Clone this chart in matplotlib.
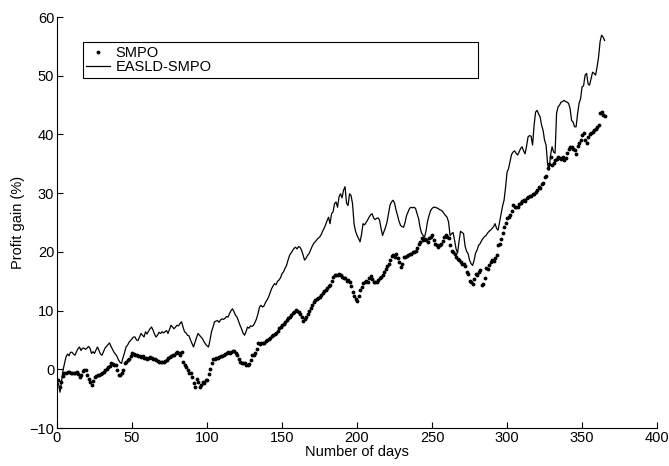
import numpy as np
import matplotlib
matplotlib.use("Agg")
from matplotlib import pyplot as plt

plt.rcParams['font.family'] = ['Liberation Sans', 'DejaVu Sans']

# daily profit gain (%) over one year of trading
smpo = [
    -1.9, -3.0, -2.2, -1.2, -0.7, -0.6, -0.5, -0.4, -0.6, -0.7,
    -0.7, -0.6, -0.5, -0.8, -1.3, -0.9, -0.3, -0.2, -0.2, -1.0,
    -1.6, -2.2, -2.7, -2.0, -1.3, -1.2, -1.0, -1.0, -0.8, -0.7,
    -0.4, -0.2, 0.1, 0.4, 0.6, 1.0, 0.9, 0.8, 0.7, -0.2,
    -1.0, -0.9, -0.7, -0.2, 1.0, 1.2, 1.6, 1.8, 2.3, 2.7,
    2.6, 2.5, 2.4, 2.3, 2.2, 2.1, 2.2, 2.0, 1.9, 1.8,
    2.0, 2.1, 1.9, 1.8, 1.7, 1.5, 1.4, 1.2, 1.3, 1.2,
    1.2, 1.4, 1.6, 1.9, 2.1, 2.2, 2.4, 2.5, 2.7, 2.9,
    2.7, 2.4, 2.9, 1.2, 0.8, 0.4, -0.2, -0.6, -0.7, -1.3,
    -2.4, -3.0, -1.6, -2.2, -3.0, -2.7, -2.2, -2.4, -1.9, -1.9,
    -0.8, 0.1, 1.0, 1.8, 1.7, 1.9, 2.0, 2.1, 2.2, 2.3,
    2.4, 2.6, 2.7, 2.9, 2.8, 3.0, 3.2, 3.1, 2.8, 2.4,
    1.8, 1.2, 1.1, 1.0, 1.0, 0.8, 0.7, 0.9, 1.6, 2.4,
    2.5, 2.7, 3.5, 4.4, 4.3, 4.4, 4.5, 4.4, 4.8, 5.0,
    5.2, 5.4, 5.6, 5.8, 6.0, 6.1, 6.5, 7.0, 7.2, 7.5,
    7.8, 8.1, 8.4, 8.7, 8.9, 9.3, 9.6, 9.8, 10.1, 9.9,
    9.7, 9.5, 8.9, 8.3, 8.5, 8.9, 9.4, 10.0, 10.5, 11.0,
    11.4, 11.8, 11.9, 12.1, 12.3, 12.6, 13.0, 13.3, 13.5, 13.9,
    14.2, 14.4, 15.0, 15.8, 16.0, 16.1, 16.0, 16.2, 16.0, 15.7,
    15.5, 15.5, 15.0, 15.2, 14.8, 14.2, 13.2, 12.4, 12.0, 11.6,
    12.5, 13.5, 14.1, 14.7, 14.9, 15.1, 14.9, 15.5, 15.9, 15.4,
    14.9, 14.8, 14.9, 15.2, 15.5, 15.7, 16.0, 16.5, 17.0, 17.6,
    18.0, 18.6, 19.3, 19.4, 19.2, 19.6, 19.0, 18.2, 17.5, 18.0,
    19.1, 19.1, 19.3, 19.4, 19.6, 19.7, 19.9, 20.0, 20.1, 20.6,
    21.4, 21.7, 22.3, 22.0, 22.2, 22.0, 21.7, 22.3, 22.6, 22.8,
    22.0, 21.4, 21.2, 20.8, 21.1, 21.4, 21.8, 22.5, 22.8, 22.6,
    22.4, 21.2, 20.2, 20.0, 19.7, 19.1, 18.8, 18.6, 18.2, 18.0,
    18.0, 17.6, 16.6, 16.2, 15.0, 14.9, 14.6, 15.3, 16.3, 16.0,
    16.5, 16.9, 14.3, 14.6, 15.5, 17.2, 17.0, 17.7, 18.2, 18.6,
    18.4, 18.9, 19.5, 21.1, 21.3, 22.2, 23.2, 24.2, 25.0, 25.7,
    26.0, 26.2, 27.0, 27.9, 27.6, 27.7, 27.6, 28.1, 28.3, 28.6,
    28.8, 28.6, 29.1, 29.4, 29.6, 29.5, 29.9, 29.8, 30.2, 30.5,
    31.1, 30.9, 31.6, 31.7, 32.8, 33.0, 34.2, 35.0, 36.2, 34.8,
    35.2, 35.6, 35.9, 36.2, 36.0, 35.9, 36.1, 35.6, 36.0, 36.8,
    37.6, 37.8, 37.9, 37.6, 37.3, 36.7, 38.0, 38.6, 39.0, 39.9,
    40.2, 39.0, 38.5, 39.6, 40.0, 40.2, 40.5, 40.7, 41.0, 41.3,
    41.6, 43.6, 43.8, 43.3, 43.2,
]

easld_smpo = [
    -2.4, -3.9, -2.0, -0.2, 1.0, 2.1, 2.6, 2.3, 2.9, 2.9,
    2.6, 2.4, 3.0, 3.5, 3.8, 3.2, 3.6, 3.6, 3.4, 3.6,
    3.9, 3.6, 2.7, 3.0, 2.7, 3.3, 3.8, 3.2, 2.6, 2.4,
    3.0, 3.6, 3.9, 4.2, 4.5, 3.9, 3.4, 2.9, 2.6, 2.2,
    1.6, 1.2, 1.0, 2.0, 2.8, 3.8, 4.1, 4.6, 4.9, 5.2,
    5.5, 5.5, 5.0, 4.9, 5.5, 6.1, 5.8, 5.5, 6.4, 6.0,
    6.5, 6.9, 7.2, 6.7, 6.0, 5.5, 5.8, 6.3, 6.1, 6.4,
    6.2, 6.4, 6.6, 6.1, 6.8, 7.5, 7.2, 6.9, 7.2, 7.5,
    7.4, 7.8, 8.1, 7.2, 6.4, 6.2, 5.8, 5.7, 5.0, 4.4,
    3.8, 4.6, 5.4, 6.1, 5.8, 5.5, 5.2, 4.7, 4.3, 4.0,
    3.8, 5.0, 6.4, 7.2, 8.1, 8.2, 8.3, 8.0, 8.4, 8.6,
    8.5, 8.7, 9.0, 8.9, 9.5, 10.0, 10.3, 9.8, 9.2, 8.9,
    8.2, 7.5, 6.9, 6.2, 5.8, 6.4, 7.2, 7.0, 7.4, 7.3,
    7.5, 8.0, 8.6, 9.5, 10.6, 10.9, 10.6, 10.8, 11.4, 11.8,
    12.3, 13.0, 13.7, 14.2, 14.6, 14.4, 15.0, 15.2, 15.6, 16.3,
    16.6, 17.2, 17.7, 18.6, 19.4, 19.8, 20.2, 20.6, 20.8, 20.5,
    20.9, 20.8, 20.3, 19.5, 18.6, 18.9, 19.4, 19.7, 20.3, 20.9,
    21.4, 21.7, 22.0, 22.3, 22.5, 22.9, 23.5, 24.0, 24.6, 25.3,
    25.9, 24.8, 26.5, 26.8, 28.2, 28.5, 27.6, 29.4, 29.9, 29.2,
    30.5, 31.1, 28.3, 27.9, 29.9, 29.6, 28.2, 24.8, 23.5, 22.8,
    22.3, 21.7, 23.0, 24.8, 24.6, 25.0, 25.4, 25.9, 26.3, 26.5,
    25.8, 25.5, 25.7, 25.8, 25.4, 24.0, 22.8, 23.5, 24.2, 25.1,
    26.5, 28.0, 28.5, 28.8, 28.3, 27.1, 26.2, 25.2, 24.5, 24.3,
    24.2, 25.0, 26.2, 26.8, 27.4, 27.6, 27.5, 27.6, 27.4, 26.5,
    25.7, 24.2, 23.2, 22.8, 22.5, 23.6, 25.2, 26.2, 27.0, 27.4,
    27.6, 27.6, 27.5, 27.4, 27.2, 27.1, 26.9, 26.5, 26.2, 25.9,
    25.1, 22.8, 23.1, 23.3, 22.0, 20.5, 19.8, 21.8, 23.5, 23.3,
    23.1, 21.0, 20.1, 19.7, 18.6, 18.0, 17.7, 18.5, 19.8, 20.3,
    21.1, 21.4, 21.9, 22.3, 22.6, 22.8, 23.2, 23.5, 23.7, 24.0,
    24.3, 24.8, 24.0, 23.7, 25.1, 26.5, 27.8, 28.8, 31.0, 33.6,
    34.2, 35.4, 36.6, 37.0, 37.2, 36.8, 36.5, 37.0, 37.6, 37.9,
    37.2, 36.7, 38.0, 39.6, 39.8, 39.7, 38.2, 41.5, 43.8, 44.1,
    43.5, 43.0, 41.6, 40.7, 39.0, 38.2, 35.0, 33.9, 36.5, 37.9,
    37.0, 36.8, 43.6, 44.7, 45.0, 45.5, 45.6, 45.8, 45.6, 45.5,
    45.3, 44.4, 42.4, 42.1, 41.3, 41.3, 43.5, 45.3, 46.1, 48.1,
    48.3, 50.1, 50.4, 48.6, 48.4, 49.5, 50.6, 50.4, 50.1, 51.5,
    53.2, 55.8, 56.9, 56.6, 56.0,
]

days = np.arange(1, len(smpo) + 1)

x_ticks = [0, 50, 100, 150, 200, 250, 300, 350, 400]
y_ticks = [-10, 0, 10, 20, 30, 40, 50, 60]

fig = plt.figure(figsize=(6.69, 4.66), dpi=100)
ax = fig.add_axes([0.0852, 0.0815, 0.897, 0.882])

ax.plot(days, smpo, linestyle='none', marker='.', markersize=3.5,
        color='black', label='SMPO')
ax.plot(days, easld_smpo, color='black', linewidth=0.9, label='EASLD-SMPO')

ax.set_xlim(0, 400)
ax.set_ylim(-10, 60)
ax.set_xticks(x_ticks)
ax.set_yticks(y_ticks)
ax.set_yticklabels(['\u221210' if t < 0 else str(t) for t in y_ticks])

for side in ['top', 'right']:
    ax.spines[side].set_visible(False)
for side in ['left', 'bottom']:
    ax.spines[side].set_linewidth(0.8)
ax.tick_params(direction='in', length=4, width=0.8, labelsize=10.5,
               pad=2)

ax.set_xlabel('Number of days', fontsize=10.5, labelpad=0)
ax.set_ylabel('Profit gain (%)', fontsize=10.5, labelpad=3)

leg = ax.legend(loc='upper left', bbox_to_anchor=(0.043, 0.845, 0.659, 0.094),
                mode='expand', fontsize=10.5, handlelength=1.6,
                handletextpad=0.4, borderpad=0.25, labelspacing=0.05,
                fancybox=False, framealpha=1, borderaxespad=0)
leg.get_frame().set_edgecolor('black')
leg.get_frame().set_linewidth(0.8)

fig.savefig('out.png', dpi=100)
